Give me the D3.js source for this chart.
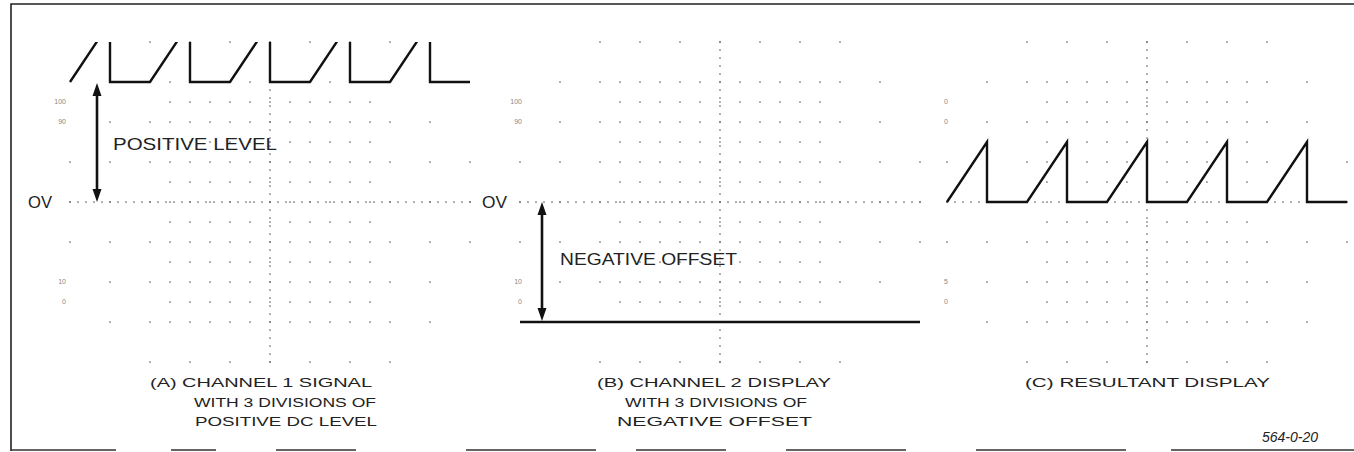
<!DOCTYPE html>
<html>
<head>
<meta charset="utf-8">
<script src="https://cdn.jsdelivr.net/npm/d3@7"></script>
<style>
  body { margin: 0; background: #fff; }
  svg { display: block; font-family: "Liberation Sans", Arial, sans-serif; }
</style>
</head>
<body>
<svg id="chart" width="1354" height="452"></svg>
<script>
// time axis in divisions, volts in divisions
var ch1Time  = [0, 1, 1, 2, 3, 3, 4, 5, 5, 6, 7, 7, 8, 9, 9, 10];
var ch1Volts = [0, 1.5, 0, 0, 1.5, 0, 0, 1.5, 0, 0, 1.5, 0, 0, 1.5, 0, 0];
var ch2Time  = [0, 10];
var ch2Volts = [0, 0];
var positiveLevel = 3;
var negativeOffset = -3;
var scaleLabels = ["100", "90", "10", "0"];
var scaleLabelsC = ["0", "0", "5", "0"];
var scaleLevels = [2.5, 2, -2, -2.5];

var svg = d3.select('#chart');
var ink = '#111';

var panels = [
  {id: 'a', x0: 70, labelX: 66, labels: scaleLabels,
   time: ch1Time, volts: ch1Volts.map(function (v) { return v + positiveLevel; }),
   caption: ['(A) CHANNEL 1 SIGNAL', 'WITH 3 DIVISIONS OF', 'POSITIVE DC LEVEL'],
   capX: [150, 194, 195], capW: [222, 182, 182]},
  {id: 'b', x0: 520, labelX: 522, labels: scaleLabels,
   time: ch2Time, volts: ch2Volts.map(function (v) { return v + negativeOffset; }),
   caption: ['(B) CHANNEL 2 DISPLAY', 'WITH 3 DIVISIONS OF', 'NEGATIVE OFFSET'],
   capX: [597, 625, 617], capW: [234, 182, 195]},
  {id: 'c', x0: 947, labelX: 948, labels: scaleLabelsC,
   time: ch1Time, volts: ch1Volts.map(function (v) { return v + positiveLevel + negativeOffset; }),
   caption: ['(C) RESULTANT DISPLAY'],
   capX: [1025], capW: [245]}
];

// graticule dot positions, in divisions from screen centre
function graticule() {
  var pts = [], c, r;
  for (r = -4; r <= 4; r++) {
    for (c = -5; c <= 5; c++) {
      var ar = Math.abs(r), ac = Math.abs(c);
      if ((ar <= 3 && ac <= 4) || (ar === 4 && ac <= 3) || (ac === 5 && ar <= 1)) pts.push([c, r]);
    }
    if (Math.abs(r) <= 3) {
      for (c = -2.5; c <= 2.5; c += 1) pts.push([c, r]);
    }
  }
  [-2.5, -1.5, -0.5, 0.5, 1.5, 2.5].forEach(function (hr) {
    for (c = -2.5; c <= 2.5; c += 0.5) pts.push([c, hr]);
  });
  for (var k = -20; k <= 20; k++) pts.push([0, k / 5]);
  for (k = -25; k <= 25; k++) pts.push([k / 5, 0]);
  return pts;
}
var dots = graticule();

var defs = svg.append('defs');

panels.forEach(function (p) {
  var x = d3.scaleLinear().domain([0, 10]).range([p.x0, p.x0 + 400]);
  var y = d3.scaleLinear().domain([-4, 4]).range([362, 42]);
  var cx = d3.scaleLinear().domain([-5, 5]).range([p.x0, p.x0 + 400]);
  var g = svg.append('g').attr('class', 'panel-' + p.id);

  defs.append('clipPath').attr('id', 'clip-' + p.id)
    .append('rect').attr('x', p.x0 - 4).attr('y', y(4)).attr('width', 408).attr('height', y(-4) - y(4));

  g.append('g').selectAll('circle').data(dots).join('circle')
    .attr('cx', function (d) { return cx(d[0]); })
    .attr('cy', function (d) { return y(d[1]); })
    .attr('r', 0.85).attr('fill', '#666');

  g.append('g').selectAll('text').data(p.labels).join('text')
    .attr('x', p.labelX).attr('y', function (d, i) { return y(scaleLevels[i]); })
    .attr('dy', '0.35em').attr('text-anchor', 'end')
    .attr('font-size', 7).attr('fill', '#888').text(function (d) { return d; });

  var line = d3.line().x(function (d) { return x(d[0]); }).y(function (d) { return y(d[1]); });
  g.append('path').datum(d3.zip(p.time, p.volts))
    .attr('clip-path', 'url(#clip-' + p.id + ')')
    .attr('d', line).attr('fill', 'none').attr('stroke', ink)
    .attr('stroke-width', 2.4).attr('stroke-linejoin', 'miter');

  g.selectAll('text.cap').data(p.caption).join('text').attr('class', 'cap')
    .attr('x', function (d, i) { return p.capX[i]; })
    .attr('y', function (d, i) { return 387 + i * 19.5; })
    .attr('textLength', function (d, i) { return p.capW[i]; })
    .attr('lengthAdjust', 'spacingAndGlyphs')
    .attr('font-size', 13.5).attr('fill', '#222').text(function (d) { return d; });

  p.x = x; p.y = y; p.g = g;
});

// double-headed vertical arrow, tips at y1 (top) and y2 (bottom)
function arrow(g, x, y1, y2) {
  var hl = 13, hw = 4.5;
  g.append('line').attr('x1', x).attr('x2', x).attr('y1', y1 + hl - 2).attr('y2', y2 - hl + 2)
    .attr('stroke', ink).attr('stroke-width', 2.6);
  g.append('path').attr('fill', ink)
    .attr('d', 'M' + x + ',' + y1 + 'L' + (x + hw) + ',' + (y1 + hl) + 'L' + (x - hw) + ',' + (y1 + hl) + 'Z' +
               'M' + x + ',' + y2 + 'L' + (x + hw) + ',' + (y2 - hl) + 'L' + (x - hw) + ',' + (y2 - hl) + 'Z');
}

// panel A: positive level arrow
var pa = panels[0];
arrow(pa.g, 97, pa.y(positiveLevel) + 1, pa.y(0));
pa.g.append('text').attr('x', 113).attr('y', 150).attr('font-size', 16.5)
  .attr('textLength', 164).attr('lengthAdjust', 'spacingAndGlyphs')
  .attr('fill', '#222').text('POSITIVE LEVEL');
pa.g.append('text').attr('x', 28).attr('y', 208).attr('font-size', 16)
  .attr('textLength', 24).attr('lengthAdjust', 'spacingAndGlyphs')
  .attr('fill', '#222').text('OV');

// panel B: negative offset arrow
var pb = panels[1];
arrow(pb.g, 542, pb.y(0), pb.y(negativeOffset) - 1);
pb.g.append('text').attr('x', 560).attr('y', 265).attr('font-size', 16.5)
  .attr('textLength', 177).attr('lengthAdjust', 'spacingAndGlyphs')
  .attr('fill', '#222').text('NEGATIVE OFFSET');
pb.g.append('text').attr('x', 482).attr('y', 208).attr('font-size', 16)
  .attr('textLength', 25).attr('lengthAdjust', 'spacingAndGlyphs')
  .attr('fill', '#222').text('OV');

// figure frame
svg.append('path').attr('d', 'M11,451 L11,4 L1354,4')
  .attr('fill', 'none').attr('stroke', '#222').attr('stroke-width', 1.6);
svg.append('line').attr('x1', 11).attr('x2', 1354).attr('y1', 450).attr('y2', 450)
  .attr('stroke', '#333').attr('stroke-width', 1.6)
  .attr('stroke-dasharray', '105,55,45,60,80,110,130,40,90,60,120,70,150,45,240');

svg.append('text').attr('x', 1262).attr('y', 442).attr('font-size', 14)
  .attr('font-style', 'italic').attr('fill', '#222').text('564-0-20');
</script>
</body>
</html>
